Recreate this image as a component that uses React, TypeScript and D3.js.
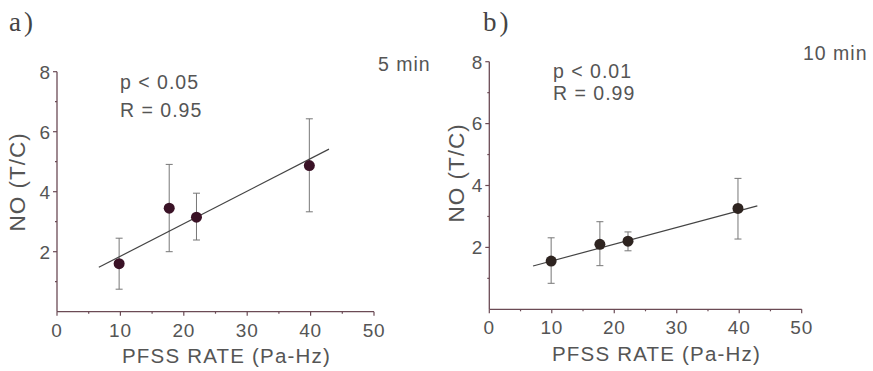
import * as React from "react";
import * as d3 from "d3";

// panel a) 5 min
const rateA = [9.8, 17.7, 22.0, 39.8];
const noA = [1.6, 3.45, 3.15, 4.87];
const errHiA = [2.45, 4.91, 3.95, 6.43];
const errLoA = [0.75, 2.0, 2.39, 3.33];
const fitXA = [6.6, 42.9];
const fitYA = [1.48, 5.42];

// panel b) 10 min
const rateB = [9.9, 17.7, 22.2, 39.8];
const noB = [1.56, 2.1, 2.2, 3.26];
const errHiB = [2.31, 2.83, 2.5, 4.23];
const errLoB = [0.84, 1.41, 1.89, 2.27];
const fitXB = [7.0, 42.9];
const fitYB = [1.4, 3.34];

const xTicks = [0, 10, 20, 30, 40, 50];
const xMinor = [5, 15, 25, 35, 45];
const yTicks = [2, 4, 6, 8];
const yMinor = [1, 3, 5, 7];

const sans = "'Liberation Sans', Arial, sans-serif";
const axisColor = "#6b4b55";
const textColor = "#555";

interface PanelProps {
  left: number;
  right: number;
  top: number;
  bottom: number;
  rate: number[];
  no: number[];
  hi: number[];
  lo: number[];
  fitX: number[];
  fitY: number[];
  letter: string;
  letterX: number;
  time: string;
  timeX: number;
  timeY: number;
  pText: string;
  rText: string;
  statX: number;
  pY: number;
  rY: number;
  dotColor: string;
  yLabelX: number;
  yLabelY: number;
  xLabelY: number;
}

const Panel: React.FC<PanelProps> = (p) => {
  const x = d3.scaleLinear().domain([0, 50]).range([p.left, p.right]);
  const y = d3.scaleLinear().domain([0, 8]).range([p.bottom, p.top]);
  const line = d3
    .line<number>()
    .x((d) => x(p.fitX[d]))
    .y((d) => y(p.fitY[d]));
  return (
    <g>
      <text
        x={p.letterX}
        y={31}
        fontFamily="'Liberation Serif', 'DejaVu Serif', serif"
        fontSize={27}
        letterSpacing={3}
        fill="#444"
      >
        {p.letter}
      </text>
      <text x={p.timeX} y={p.timeY} fontFamily={sans} fontSize={19.5} letterSpacing={1} fill={textColor}>
        {p.time}
      </text>
      <text x={p.statX} y={p.pY} fontFamily={sans} fontSize={19.5} letterSpacing={1} fill={textColor}>
        {p.pText}
      </text>
      <text x={p.statX} y={p.rY} fontFamily={sans} fontSize={19.5} letterSpacing={1} fill={textColor}>
        {p.rText}
      </text>
      {/* axes */}
      <line x1={x(0)} x2={x(0)} y1={y(0)} y2={y(8)} stroke={axisColor} strokeWidth={1.3} />
      <line x1={x(0)} x2={x(50)} y1={y(0)} y2={y(0)} stroke={axisColor} strokeWidth={1.3} />
      {yTicks.map((t) => (
        <g key={t} transform={`translate(${x(0)},${y(t)})`}>
          <line x2={-4} stroke={axisColor} strokeWidth={1.2} />
          <text x={-7} dy="0.36em" textAnchor="end" fontFamily={sans} fontSize={19} fill={textColor}>
            {t}
          </text>
        </g>
      ))}
      {yMinor.map((t) => (
        <line key={t} x1={x(0)} x2={x(0) - 2} y1={y(t)} y2={y(t)} stroke={axisColor} strokeWidth={1.2} />
      ))}
      {xTicks.map((t) => (
        <g key={t} transform={`translate(${x(t)},${y(0)})`}>
          <line y2={4} stroke={axisColor} strokeWidth={1.2} />
          <text y={25} textAnchor="middle" fontFamily={sans} fontSize={19} letterSpacing={0.8} fill={textColor}>
            {t}
          </text>
        </g>
      ))}
      {xMinor.map((t) => (
        <line key={t} x1={x(t)} x2={x(t)} y1={y(0)} y2={y(0) + 2} stroke={axisColor} strokeWidth={1.2} />
      ))}
      <text
        x={(x(0) + x(50)) / 2 + 11}
        y={p.xLabelY}
        textAnchor="middle"
        fontFamily={sans}
        fontSize={20.5}
        letterSpacing={1.2}
        fill={textColor}
      >
        PFSS RATE (Pa-Hz)
      </text>
      <text
        transform={`translate(${p.yLabelX},${p.yLabelY}) rotate(-90)`}
        textAnchor="middle"
        fontFamily={sans}
        fontSize={22.5}
        letterSpacing={1}
        fill={textColor}
      >
        NO (T/C)
      </text>
      {/* error bars */}
      {p.rate.map((r, i) => (
        <g key={i} stroke="#777" strokeWidth={1}>
          <line x1={x(r)} x2={x(r)} y1={y(p.hi[i])} y2={y(p.lo[i])} />
          <line x1={x(r) - 3.5} x2={x(r) + 3.5} y1={y(p.hi[i])} y2={y(p.hi[i])} />
          <line x1={x(r) - 3.5} x2={x(r) + 3.5} y1={y(p.lo[i])} y2={y(p.lo[i])} />
        </g>
      ))}
      <path d={line([0, 1]) || ""} stroke="#444" strokeWidth={1.2} fill="none" />
      {p.rate.map((r, i) => (
        <circle key={i} cx={x(r)} cy={y(p.no[i])} r={5.5} fill={p.dotColor} />
      ))}
    </g>
  );
};

const App: React.FC = () => (
  <svg
    width={873}
    height={371}
    viewBox="0 0 873 371"
    style={{ position: "absolute", left: 0, top: 0, background: "#fff" }}
  >
    <Panel
      left={57}
      right={374}
      top={71.7}
      bottom={311.7}
      rate={rateA}
      no={noA}
      hi={errHiA}
      lo={errLoA}
      fitX={fitXA}
      fitY={fitYA}
      letter="a)"
      letterX={9}
      time="5 min"
      timeX={378}
      timeY={71}
      pText="p < 0.05"
      rText="R = 0.95"
      statX={120}
      pY={89}
      rY={117}
      dotColor="#3a1226"
      yLabelX={25}
      yLabelY={182}
      xLabelY={363}
    />
    <Panel
      left={489.3}
      right={801.7}
      top={61.7}
      bottom={309.3}
      rate={rateB}
      no={noB}
      hi={errHiB}
      lo={errLoB}
      fitX={fitXB}
      fitY={fitYB}
      letter="b)"
      letterX={483}
      time="10 min"
      timeX={803}
      timeY={60}
      pText="p < 0.01"
      rText="R = 0.99"
      statX={553}
      pY={78}
      rY={100}
      dotColor="#2e2420"
      yLabelX={464}
      yLabelY={173}
      xLabelY={361}
    />
  </svg>
);

export default App;
